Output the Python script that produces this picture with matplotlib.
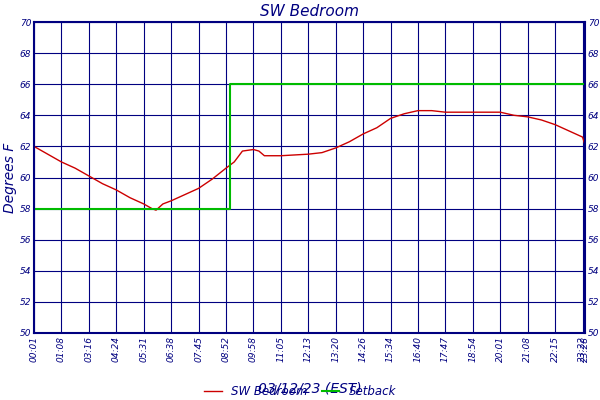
import matplotlib
matplotlib.use("Agg")
import matplotlib.pyplot as plt

tick_labels = ["00:01","01:08","03:16","04:24","05:31","06:38","07:45","08:52","09:58","11:05",
               "12:13","13:20","14:26","15:34","16:40","17:47","18:54","20:01","21:08","22:15","23:22"]
temp_x = [0, 0.5, 1, 1.5, 2, 2.5, 3, 3.5, 4, 4.3, 4.45, 4.7, 5, 5.5, 6, 6.5, 7, 7.3, 7.6, 8, 8.2, 8.4,
          9, 10, 10.5, 11, 11.5, 12, 12.5, 13, 13.5, 14, 14.5, 15, 16, 17, 17.5, 18, 18.5, 19, 19.5, 20, 20.09]
temp_y = [62.0, 61.5, 61.0, 60.6, 60.1, 59.6, 59.2, 58.7, 58.3, 58.0, 57.9, 58.3, 58.5, 58.9, 59.3, 59.9, 60.6,
          61.0, 61.7, 61.8, 61.7, 61.4, 61.4, 61.5, 61.6, 61.9, 62.3, 62.8, 63.2, 63.8, 64.1, 64.3, 64.3, 64.2,
          64.2, 64.2, 64.0, 63.9, 63.7, 63.4, 63.0, 62.6, 62.1]
set_x = [0, 7.15, 7.15, 20.09]
set_y = [58, 58, 66, 66]

navy = "#000080"
fig = plt.figure(figsize=(6, 4), dpi=100)
ax = fig.add_axes([34/600, 1-333/400, 551/600, 311/400])
ax.plot(temp_x, temp_y, color="#cc0000", lw=1, label="SW Bedroom")
ax.plot(set_x, set_y, color="#00bb00", lw=1.5, label="Setback")
ax.set_xlim(0, 20.09)
ax.set_ylim(50, 70)
ax.set_xticks(list(range(21)) + [20.09])
ax.set_xticklabels(tick_labels + ["23:28"], rotation=90, fontsize=6.5, style="italic", color=navy)
ax.set_yticks(range(50, 71, 2))
ax.tick_params(axis="y", labelsize=6.5, labelcolor=navy, length=0, labelright=True, right=True, pad=2)
for l in ax.get_yticklabels() + ax.yaxis.get_ticklabels(which="major"):
    l.set_style("italic")
for l in ax.yaxis.get_majorticklabels():
    l.set_style("italic")
ax.tick_params(axis="x", length=0, pad=2)
ax.grid(True, color=navy, lw=0.8)
for s in ax.spines.values():
    s.set_color(navy)
    s.set_linewidth(1.5)
ax.set_title("SW Bedroom", color=navy, style="italic", fontsize=11, pad=4)
ax.set_ylabel("Degrees F", color=navy, style="italic", fontsize=10, labelpad=2)
ax.set_xlabel("03/12/23 (EST)", color=navy, style="italic", fontsize=10)
ax.xaxis.set_label_coords(0.5, -0.155)
leg = fig.legend(loc="center", ncol=2, frameon=False, fontsize=8.5,
                 bbox_to_anchor=(0.5, 0.022), handlelength=1.5, columnspacing=1.2)
for t in leg.get_texts():
    t.set_color(navy); t.set_style("italic")
fig.savefig("out.png", dpi=100)
